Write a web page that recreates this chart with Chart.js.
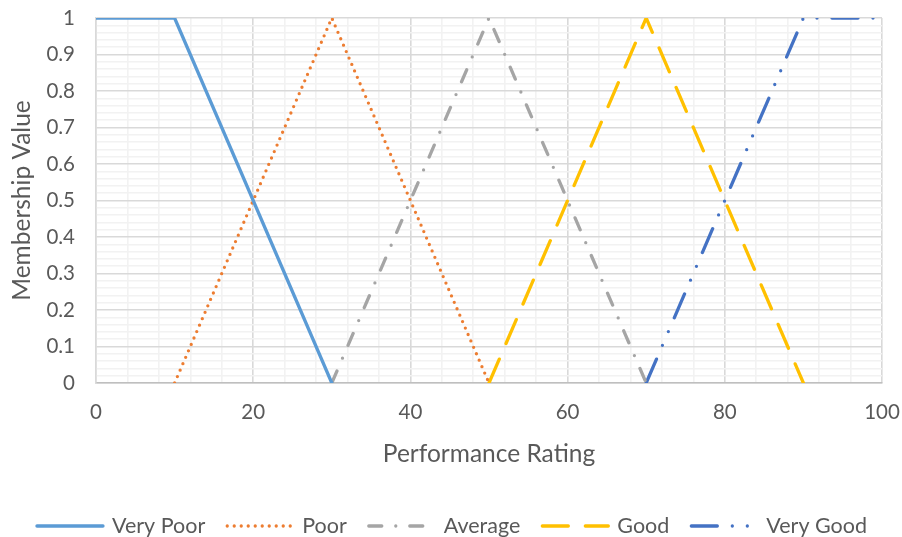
<!DOCTYPE html>
<html>
<head>
<meta charset="utf-8">
<script src="https://cdn.jsdelivr.net/npm/chart.js@4.4.0/dist/chart.umd.min.js"></script>
<style>
  html, body { margin: 0; padding: 0; background: #fff; }
  #wrap { width: 902px; height: 537px; }
</style>
</head>
<body>
<div id="wrap"><canvas id="fuzzyChart"></canvas></div>
<script>
// membership functions, corner points (rating, membership)
const seriesNames = ['Very Poor', 'Poor', 'Average', 'Good', 'Very Good'];
const veryPoorX = [0, 10, 30];
const veryPoorY = [1, 1, 0];
const poorX = [10, 30, 50];
const poorY = [0, 1, 0];
const averageX = [30, 50, 70];
const averageY = [0, 1, 0];
const goodX = [50, 70, 90];
const goodY = [0, 1, 0];
const veryGoodX = [70, 90, 100];
const veryGoodY = [0, 1, 1];

const xTickLabels = [0, 20, 40, 60, 80, 100];
const yTickLabels = [0, 0.1, 0.2, 0.3, 0.4, 0.5, 0.6, 0.7, 0.8, 0.9, 1];

const pts = (xs, ys) => xs.map((x, i) => ({ x: x, y: ys[i] }));

const FONT = 'Lato, "Open Sans", sans-serif';
const TXT = '#595959';
const LW = 3.3;

function line(name, xs, ys, color, dash) {
  return {
    label: name,
    data: pts(xs, ys),
    showLine: true,
    borderColor: color,
    backgroundColor: color,
    borderWidth: LW,
    borderDash: dash,
    borderCapStyle: 'round',
    pointRadius: 0,
    fill: false,
    tension: 0
  };
}

// legend drawn by hand so the dash patterns show in the samples
const lineLegend = {
  id: 'lineLegend',
  afterDraw(chart) {
    const c = chart.ctx;
    const sample = 70, gapText = 7, gapItem = 20, y = 526;
    c.save();
    c.font = '21.5px ' + FONT;
    c.textBaseline = 'middle';
    const sets = chart.data.datasets;
    const widths = sets.map(d => c.measureText(d.label).width);
    let total = 0;
    widths.forEach((w, i) => { total += sample + gapText + w + (i ? gapItem : 0); });
    let x = (chart.width - total) / 2;
    sets.forEach((d, i) => {
      c.strokeStyle = d.borderColor;
      c.lineWidth = LW;
      c.lineCap = 'round';
      c.setLineDash(d.borderDash);
      c.beginPath();
      c.moveTo(x + 2, y);
      c.lineTo(x + sample - 2, y);
      c.stroke();
      c.setLineDash([]);
      c.fillStyle = TXT;
      c.fillText(d.label, x + sample + gapText, y);
      x += sample + gapText + widths[i] + gapItem;
    });
    c.restore();
  }
};

const ctx = document.getElementById('fuzzyChart').getContext('2d');

new Chart(ctx, {
  type: 'scatter',
  data: {
    datasets: [
      line(seriesNames[0], veryPoorX, veryPoorY, '#5B9BD5', []),
      line(seriesNames[1], poorX, poorY, '#ED7D31', [0, 7]),
      line(seriesNames[2], averageX, averageY, '#A5A5A5', [13, 14, 0, 14]),
      line(seriesNames[3], goodX, goodY, '#FFC000', [26, 17]),
      line(seriesNames[4], veryGoodX, veryGoodY, '#4472C4', [26, 15, 0, 15, 0, 15])
    ]
  },
  plugins: [lineLegend],
  options: {
    responsive: true,
    maintainAspectRatio: false,
    animation: false,
    layout: { padding: { top: 18, right: 20, left: 0, bottom: 54 } },
    plugins: {
      tooltip: { enabled: false },
      legend: { display: false }
    },
    scales: {
      x: {
        type: 'linear',
        min: 0,
        max: 100,
        border: { display: true, color: '#BFBFBF', width: 1.5 },
        grid: {
          drawTicks: false,
          color: c => (c.tick.value % 20 === 0 ? '#D9D9D9' : '#F2F2F2'),
          lineWidth: 1.6
        },
        ticks: {
          stepSize: 4,
          autoSkip: false,
          maxRotation: 0,
          padding: 17,
          color: TXT,
          font: { family: FONT, size: 20.5 },
          callback: v => (xTickLabels.includes(v) ? String(v) : '')
        },
        title: {
          display: true,
          text: 'Performance Rating',
          color: TXT,
          font: { family: FONT, size: 24.5 },
          padding: { top: 0, bottom: 14 }
        },
        afterFit: s => {
          s.height = 100;
          s.paddingLeft = 0;
          s.paddingRight = 0;
        }
      },
      y: {
        min: 0,
        max: 1,
        border: { display: true, color: '#D9D9D9', width: 1.5 },
        grid: {
          drawTicks: false,
          color: c => (Math.round(c.tick.value * 100) % 10 === 0 ? '#D9D9D9' : '#F2F2F2'),
          lineWidth: 1.6
        },
        ticks: {
          stepSize: 0.02,
          autoSkip: false,
          padding: 21,
          color: TXT,
          font: { family: FONT, size: 20.5 },
          callback: v => {
            const r = Math.round(v * 100) / 100;
            return yTickLabels.includes(r) ? String(r) : '';
          }
        },
        title: {
          display: true,
          text: 'Membership Value',
          color: TXT,
          font: { family: FONT, size: 24.5 },
          padding: { top: 7, bottom: 0 }
        },
        afterFit: s => {
          s.width = 96;
          s.paddingTop = 0;
          s.paddingBottom = 0;
        }
      }
    }
  }
});
</script>
</body>
</html>
